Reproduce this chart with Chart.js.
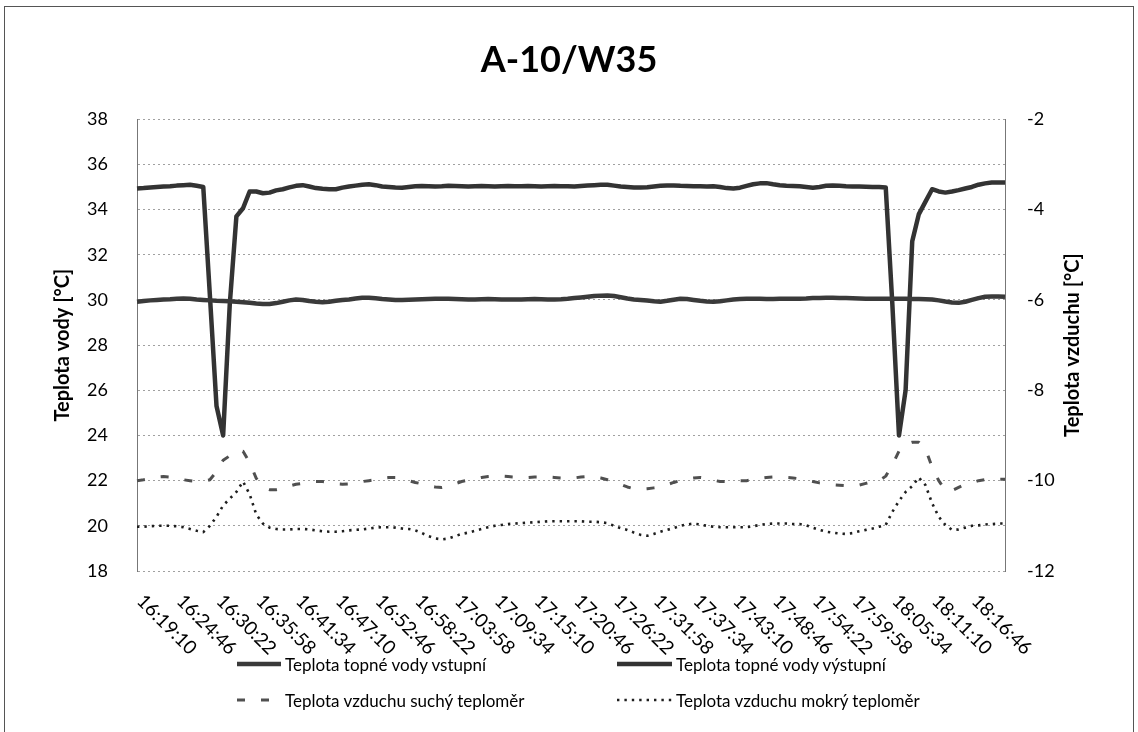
<!DOCTYPE html>
<html>
<head>
<meta charset="utf-8">
<script src="https://cdn.jsdelivr.net/npm/chart.js@4.4.1/dist/chart.umd.min.js"></script>
<style>
html,body{margin:0;padding:0;background:#fff;}
#wrap{position:relative;width:1138px;height:732px;overflow:hidden;background:#fff;}
#frame{position:absolute;left:4px;top:6px;width:1130px;height:760px;border:1px solid #555;box-sizing:border-box;}
#c{position:absolute;left:0;top:0;}
#legend{position:absolute;left:237px;top:646px;display:grid;grid-template-columns:380px 380px;grid-auto-rows:36px;font-family:Lato,"Open Sans",sans-serif;font-size:17px;color:#000;}
.li{display:flex;align-items:center;white-space:nowrap;}
.li svg{margin-right:4px;flex:none;}
</style>
</head>
<body>
<div id="wrap">
<div id="frame"></div>
<canvas id="c" width="1138" height="732"></canvas>
<div id="legend"></div>
</div>
<script>
// ---- data ----
const chartTitle = 'A-10/W35';
const leftAxisTitle = 'Teplota vody [°C]';
const rightAxisTitle = 'Teplota vzduchu [°C]';
const seriesNames = [
  'Teplota topné vody vstupní',
  'Teplota topné vody výstupní',
  'Teplota vzduchu suchý teploměr',
  'Teplota vzduchu mokrý teploměr'
];
const tickLabels = ['16:19:10','16:24:46','16:30:22','16:35:58','16:41:34','16:47:10','16:52:46','16:58:22',
  '17:03:58','17:09:34','17:15:10','17:20:46','17:26:22','17:31:58','17:37:34','17:43:10','17:48:46',
  '17:54:22','17:59:58','18:05:34','18:11:10','18:16:46'];
const pointsPerTick = 6;      // samples between labelled ticks
const sampleStepSec = 56;     // sampling interval of the measurement
const startTime = '16:19:10';

// water inlet (left axis)
const vodaVstupni = [29.92,29.95,29.98,30.0,30.02,30.03,30.05,30.06,30.05,30.02,
 30.0,29.98,29.96,29.95,29.94,29.92,29.9,29.87,29.84,29.82,
 29.82,29.86,29.92,29.98,30.02,30.0,29.95,29.92,29.9,29.92,
 29.96,30.0,30.02,30.06,30.1,30.1,30.07,30.04,30.02,30.0,
 30.0,30.01,30.02,30.03,30.04,30.05,30.05,30.05,30.04,30.03,
 30.02,30.02,30.03,30.04,30.03,30.02,30.02,30.02,30.02,30.03,
 30.04,30.03,30.02,30.02,30.03,30.05,30.08,30.11,30.14,30.17,
 30.19,30.2,30.17,30.12,30.06,30.02,30.0,29.97,29.94,29.92,
 29.96,30.01,30.05,30.04,30.0,29.96,29.93,29.92,29.94,29.98,
 30.02,30.04,30.05,30.05,30.05,30.04,30.04,30.05,30.05,30.05,
 30.05,30.06,30.08,30.09,30.1,30.1,30.09,30.08,30.07,30.06,
 30.05,30.05,30.05,30.05,30.05,30.05,30.05,30.04,30.04,30.03,
 30.02,29.98,29.93,29.89,29.87,29.92,30.0,30.08,30.14,30.15,
 30.15,30.14];
// water outlet (left axis)
const vodaVystupni = [34.93,34.95,34.98,35.0,35.02,35.03,35.06,35.08,35.1,35.05,
 35.0,30.2,25.3,24.0,29.8,33.7,34.06,34.8,34.8,34.72,
 34.75,34.85,34.9,34.98,35.05,35.08,35.02,34.95,34.92,34.9,
 34.9,34.97,35.02,35.06,35.1,35.12,35.08,35.02,35.0,34.98,
 34.97,35.0,35.03,35.04,35.03,35.02,35.03,35.05,35.04,35.03,
 35.02,35.03,35.04,35.03,35.02,35.03,35.04,35.03,35.03,35.04,
 35.03,35.02,35.03,35.04,35.03,35.03,35.02,35.04,35.06,35.08,
 35.1,35.1,35.06,35.02,35.0,34.98,34.98,34.99,35.02,35.05,
 35.07,35.07,35.05,35.04,35.03,35.03,35.02,35.03,35.0,34.95,
 34.93,34.97,35.05,35.12,35.16,35.17,35.12,35.08,35.05,35.04,
 35.03,35.0,34.97,35.0,35.05,35.07,35.05,35.03,35.02,35.02,
 35.01,35.0,35.0,34.98,29.8,24.0,26.0,32.6,33.8,34.35,
 34.9,34.8,34.75,34.8,34.86,34.93,35.0,35.1,35.16,35.2,
 35.2,35.2];
// air dry bulb (right axis)
const vzduchSuchy = [-10.0,-9.98,-9.95,-9.92,-9.91,-9.92,-9.95,-9.98,-10.0,-10.02,
 -10.02,-9.98,-9.8,-9.55,-9.45,-9.35,-9.35,-9.6,-9.95,-10.15,
 -10.2,-10.2,-10.17,-10.12,-10.08,-10.06,-10.04,-10.02,-10.02,-10.04,
 -10.07,-10.08,-10.07,-10.04,-10.02,-10.0,-9.98,-9.95,-9.93,-9.93,
 -9.96,-10.0,-10.04,-10.07,-10.11,-10.14,-10.15,-10.12,-10.07,-10.02,
 -9.99,-9.96,-9.93,-9.91,-9.9,-9.9,-9.91,-9.92,-9.93,-9.93,
 -9.92,-9.92,-9.92,-9.93,-9.94,-9.95,-9.94,-9.92,-9.91,-9.91,
 -9.94,-9.98,-10.02,-10.08,-10.14,-10.18,-10.19,-10.18,-10.16,-10.14,
 -10.09,-10.04,-10.0,-9.96,-9.94,-9.93,-9.95,-9.99,-10.02,-10.02,
 -10.01,-10.0,-10.0,-9.98,-9.95,-9.93,-9.92,-9.92,-9.93,-9.94,
 -9.96,-9.99,-10.02,-10.05,-10.07,-10.09,-10.1,-10.11,-10.12,-10.1,
 -10.06,-10.02,-10.0,-9.9,-9.65,-9.35,-9.2,-9.15,-9.15,-9.3,
 -9.7,-10.0,-10.22,-10.22,-10.15,-10.08,-10.05,-10.0,-9.98,-9.97,
 -9.97,-9.97];
// air wet bulb (right axis)
const vzduchMokry = [-11.02,-11.02,-11.01,-11.0,-11.0,-11.0,-11.01,-11.03,-11.07,-11.11,
 -11.14,-11.0,-10.8,-10.55,-10.4,-10.25,-10.02,-10.3,-10.75,-10.95,
 -11.04,-11.07,-11.08,-11.08,-11.07,-11.07,-11.08,-11.1,-11.12,-11.13,
 -11.13,-11.12,-11.1,-11.09,-11.08,-11.06,-11.04,-11.03,-11.03,-11.04,
 -11.06,-11.07,-11.1,-11.16,-11.23,-11.28,-11.3,-11.28,-11.23,-11.18,
 -11.15,-11.11,-11.07,-11.03,-11.0,-10.98,-10.96,-10.95,-10.94,-10.93,
 -10.92,-10.91,-10.9,-10.9,-10.9,-10.9,-10.9,-10.9,-10.91,-10.91,
 -10.92,-10.94,-11.0,-11.05,-11.09,-11.15,-11.2,-11.22,-11.18,-11.13,
 -11.09,-11.05,-11.0,-10.97,-10.95,-10.97,-11.0,-11.02,-11.03,-11.03,
 -11.03,-11.03,-11.03,-11.01,-10.98,-10.96,-10.95,-10.95,-10.95,-10.96,
 -10.96,-10.99,-11.04,-11.09,-11.13,-11.15,-11.17,-11.18,-11.16,-11.12,
 -11.09,-11.06,-11.02,-10.98,-10.69,-10.45,-10.25,-10.12,-9.93,-10.1,
 -10.5,-10.8,-10.98,-11.09,-11.08,-11.04,-11.0,-10.99,-10.97,-10.96,
 -10.95,-10.95];

// ---- categories (time stamps of samples) ----
function toSec(s){const p=s.split(':').map(Number);return p[0]*3600+p[1]*60+p[2];}
function fmt(t){const h=Math.floor(t/3600),m=Math.floor(t%3600/60),s=t%60;return h+':'+String(m).padStart(2,'0')+':'+String(s).padStart(2,'0');}
const categories = vodaVystupni.map((_, i) => fmt(toSec(startTime) + i * sampleStepSec));

const FONT = 'Lato, "Open Sans", sans-serif';

const datasets = [
  {label: seriesNames[0], data: vodaVstupni, yAxisID: 'y', borderColor: '#3a3a3a', borderWidth: 4.5, borderDash: []},
  {label: seriesNames[1], data: vodaVystupni, yAxisID: 'y', borderColor: '#333333', borderWidth: 4.5, borderDash: []},
  {label: seriesNames[2], data: vzduchSuchy, yAxisID: 'y1', borderColor: '#505050', borderWidth: 3, borderDash: [8, 16]},
  {label: seriesNames[3], data: vzduchMokry, yAxisID: 'y1', borderColor: '#1e1e1e', borderWidth: 2.6, borderDash: [2.4, 5]}
].map(d => Object.assign(d, {pointRadius: 0, pointHoverRadius: 0, tension: 0, fill: false, borderJoinStyle: 'round'}));

const extraText = {
  id: 'extraText',
  afterDraw(chart) {
    const {ctx, chartArea, scales} = chart;
    const x = scales.x;
    ctx.save();
    ctx.fillStyle = '#000';
    ctx.font = '19px ' + FONT;
    ctx.textAlign = 'left';
    ctx.textBaseline = 'middle';
    tickLabels.forEach((t, k) => {
      const px = x.getPixelForValue(k * pointsPerTick);
      ctx.save();
      ctx.translate(px + 3, chartArea.bottom + 27);
      ctx.rotate(Math.PI / 4);
      ctx.fillText(t, 0, 0);
      ctx.restore();
    });
    ctx.font = 'bold 20px ' + FONT;
    ctx.textAlign = 'center';
    ctx.translate(scales.y1.left + 68, (chartArea.top + chartArea.bottom) / 2);
    ctx.rotate(-Math.PI / 2);
    ctx.fillText(rightAxisTitle, 0, 0);
    ctx.restore();
  }
};

const chart = new Chart(document.getElementById('c'), {
  type: 'line',
  data: {labels: categories, datasets},
  options: {
    responsive: false,
    animation: false,
    events: [],
    layout: {padding: 0},
    plugins: {
      legend: {display: false},
      tooltip: {enabled: false},
      title: {display: true, text: chartTitle, color: '#000',
        font: {family: FONT, size: 36, weight: 'bold', lineHeight: 1.2},
        padding: {top: 39, bottom: 37}}
    },
    scales: {
      x: {
        type: 'category', offset: false,
        grid: {display: false},
        border: {display: false},
        ticks: {display: false},
        afterFit(s) { s.height = 161; }
      },
      y: {
        position: 'left', min: 18, max: 38,
        ticks: {stepSize: 2, color: '#000', font: {family: FONT, size: 18}, padding: 29},
        grid: {color: '#a0a0a0', lineWidth: 1, drawTicks: false},
        border: {display: true, color: '#777', width: 1, dash: [2, 3]},
        title: {display: true, text: leftAxisTitle, color: '#000',
          font: {family: FONT, size: 20, weight: 'bold'}, padding: {top: 51, bottom: 0}},
        afterFit(s) { s.width = 137; }
      },
      y1: {
        position: 'right', min: -12, max: -2,
        ticks: {stepSize: 2, color: '#000', font: {family: FONT, size: 18}, padding: 22},
        grid: {drawOnChartArea: false, drawTicks: false},
        border: {display: true, color: '#777', width: 1},
        afterFit(s) { s.width = 133; }
      }
    }
  },
  plugins: [extraText]
});

// ---- HTML legend built from the datasets ----
const legendEl = document.getElementById('legend');
const sampleWidths = [44, 55, 44, 55];
chart.data.datasets.forEach((ds, i) => {
  const item = document.createElement('div');
  item.className = 'li';
  const w = sampleWidths[i];
  const dash = (ds.borderDash && ds.borderDash.length) ? ds.borderDash.join(' ') : 'none';
  item.innerHTML = '<svg width="' + w + '" height="10"><line x1="0" y1="5" x2="' + w + '" y2="5" stroke="' + ds.borderColor +
    '" stroke-width="' + ds.borderWidth + '" stroke-dasharray="' + dash + '"/></svg>';
  const span = document.createElement('span');
  span.textContent = ds.label;
  item.appendChild(span);
  legendEl.appendChild(item);
});
</script>
</body>
</html>
